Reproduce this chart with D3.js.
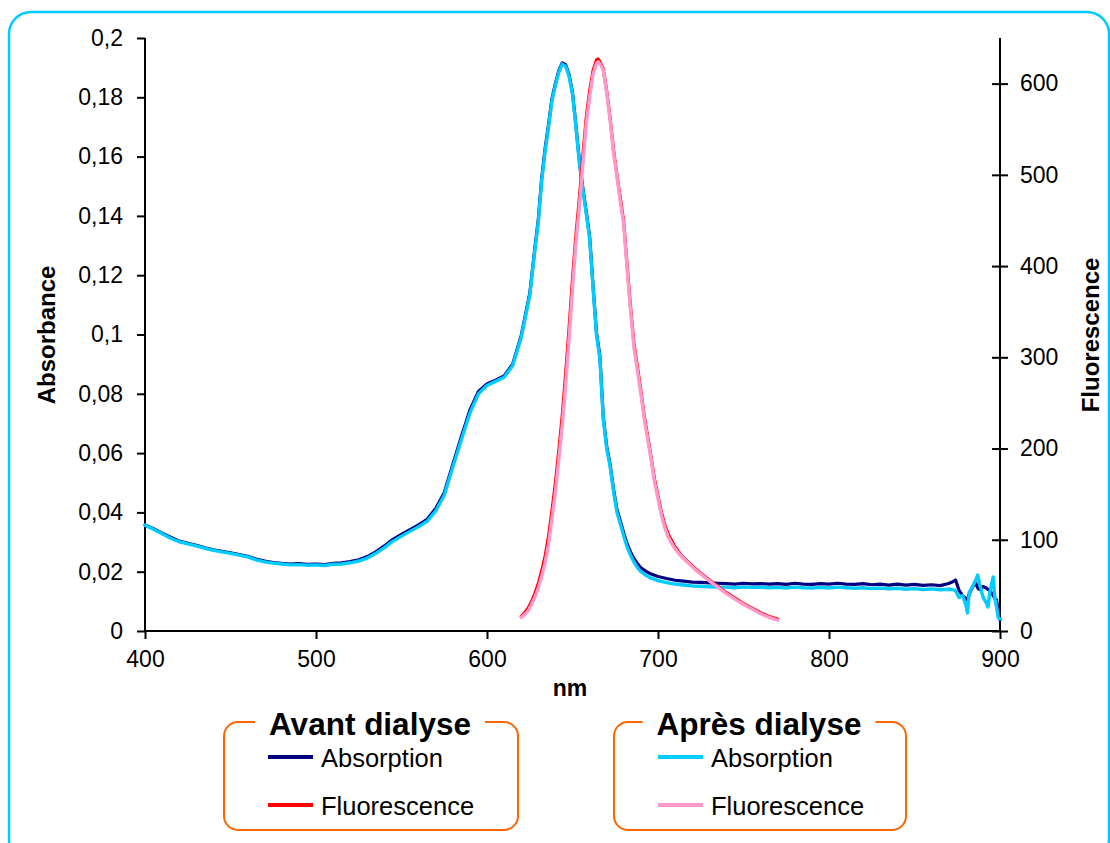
<!DOCTYPE html>
<html>
<head>
<meta charset="utf-8">
<script src="https://cdn.jsdelivr.net/npm/d3@7"></script>
<style>
html,body{margin:0;padding:0;background:#fff;}
svg{display:block;font-family:Arial,"Liberation Sans",sans-serif;}
</style>
</head>
<body>
<svg id="chart" width="1110" height="843"></svg>
<script>
// ---------- DATA ----------
const absWl = [400,405,410,415,420,425,430,435,440,445,450,455,460,465,470,475,480,485,490,495,500,505,510,515,520,525,530,535,540,545,550,555,560,565,570,575,580,585,590,595,600,605,610,615,620,625,628,630,632,634,636,638,640,642,644,646,648,650,652,654,656,658,660,662,664,666,668,670,672,674,676,678,680,682,684,686,688,690,693,696,700,705,710,715,720,725,730,735,740,745,750,755,760,765,770,775,780,785,790,795,800,805,810,815,820,825,830,835,840,845,850,855,860,865,870,872,874,876,878,880,881,882,884,886,887,888,890,892,893,894,896,897,898,899,900];

const absAvant = [0.0358,0.0345,0.0330,0.0316,0.0303,0.0296,0.0289,0.0281,0.0274,0.0269,0.0264,0.0258,0.0252,0.0243,0.0236,0.0231,0.0228,0.0226,0.0227,0.0225,0.0226,0.0224,0.0228,0.0230,0.0234,0.0240,0.0251,0.0267,0.0287,0.0309,0.0326,0.0342,0.0358,0.0377,0.0413,0.0466,0.0562,0.0655,0.0745,0.0808,0.0833,0.0846,0.0860,0.0900,0.0996,0.1138,0.1292,0.1388,0.1528,0.1628,0.1708,0.1796,0.1846,0.1890,0.1916,0.1910,0.1876,0.1816,0.1706,0.1586,0.1496,0.1416,0.1331,0.1166,0.1008,0.0928,0.0722,0.0622,0.0562,0.0478,0.0410,0.0370,0.0330,0.0293,0.0266,0.0244,0.0227,0.0213,0.0201,0.0192,0.0184,0.0177,0.0171,0.0168,0.0165,0.0164,0.0162,0.0161,0.0160,0.0158,0.0161,0.0159,0.0160,0.0158,0.0160,0.0157,0.0161,0.0158,0.0157,0.0160,0.0158,0.0161,0.0158,0.0157,0.0160,0.0156,0.0158,0.0155,0.0158,0.0155,0.0157,0.0154,0.0156,0.0153,0.0160,0.0165,0.0172,0.0138,0.0120,0.0110,0.0105,0.0125,0.0150,0.0160,0.0145,0.0140,0.0150,0.0145,0.0140,0.0138,0.0120,0.0110,0.0105,0.0060,0.0037];

const absApres = [0.0357,0.0343,0.0328,0.0313,0.0301,0.0294,0.0287,0.0279,0.0272,0.0267,0.0262,0.0256,0.0250,0.0240,0.0233,0.0229,0.0226,0.0223,0.0224,0.0222,0.0223,0.0221,0.0225,0.0226,0.0230,0.0236,0.0246,0.0262,0.0281,0.0303,0.0320,0.0336,0.0352,0.0370,0.0405,0.0458,0.0553,0.0645,0.0735,0.0800,0.0828,0.0842,0.0856,0.0895,0.0990,0.1130,0.1285,0.1380,0.1520,0.1620,0.1700,0.1790,0.1840,0.1885,0.1912,0.1905,0.1870,0.1810,0.1700,0.1580,0.1490,0.1410,0.1325,0.1160,0.1000,0.0920,0.0715,0.0615,0.0555,0.0470,0.0400,0.0360,0.0320,0.0282,0.0255,0.0232,0.0214,0.0200,0.0188,0.0178,0.0170,0.0163,0.0158,0.0155,0.0152,0.0151,0.0149,0.0148,0.0148,0.0146,0.0149,0.0147,0.0148,0.0146,0.0147,0.0145,0.0148,0.0146,0.0145,0.0147,0.0145,0.0148,0.0146,0.0144,0.0146,0.0143,0.0145,0.0142,0.0144,0.0141,0.0143,0.0140,0.0142,0.0139,0.0141,0.0140,0.0136,0.0113,0.0120,0.0090,0.0061,0.0130,0.0150,0.0175,0.0189,0.0160,0.0115,0.0095,0.0081,0.0130,0.0182,0.0110,0.0080,0.0044,0.0040];

const fluoWl = [620,622,624,626,628,630,632,634,636,638,640,642,644,646,648,650,652,654,656,658,660,662,664,665,666,668,670,672,674,676,678,680,682,684,686,688,690,692,694,696,698,700,702,704,706,708,710,714,718,722,726,730,735,740,745,750,755,760,765,770];

const fluoAvant = [16,20,25,32,41,52,66,82,104,132,162,198,236,282,332,386,434,474,520,562,592,614,626,627,624,616,592,562,527,500,474,448,399,354,314,289,263,235,213,190,166,148,130,116,106,99,92,82,75,68,62,56,49,42,36,30,25,20,16,13];

const fluoApres = [15,18,22,29,37,47,60,75,95,123,152,188,225,270,320,375,425,465,510,555,585,610,622,624,622,615,590,560,524,498,470,445,395,350,310,285,260,232,210,188,163,145,127,113,103,96,90,81,74,67,61,55,48,41,35,29,24,19,15,12];

const absTicks = [0,0.02,0.04,0.06,0.08,0.1,0.12,0.14,0.16,0.18,0.2];
const fluoTicks = [0,100,200,300,400,500,600];
const nmTicks = [400,500,600,700,800,900];

const legendGroups = [
  {title:"Avant dialyse", items:[{label:"Absorption",color:"#000080"},{label:"Fluorescence",color:"#FF0000"}]},
  {title:"Après dialyse", items:[{label:"Absorption",color:"#00CCFF"},{label:"Fluorescence",color:"#FF99CC"}]}
];

// ---------- CHART ----------
(function(){
const svg = d3.select("#chart");
const pLeft = 145, pRight = 1000, pTop = 38, pBottom = 631;

svg.append("rect").attr("x",9).attr("y",12).attr("width",1100).attr("height",850)
  .attr("rx",22).attr("fill","none").attr("stroke","#00CCFF").attr("stroke-width",2.5);

const x = d3.scaleLinear().domain([400,900]).range([pLeft,pRight]);
const yA = d3.scaleLinear().domain([0,0.2]).range([pBottom,pTop]);
const yF = d3.scaleLinear().domain([0,650]).range([pBottom,pTop]);

const fmt = d => String(d).replace(".",",");

const gL = svg.append("g").attr("transform",`translate(${pLeft},0)`)
  .call(d3.axisLeft(yA).tickValues(absTicks).tickFormat(fmt).tickSize(8).tickPadding(14).tickSizeOuter(0));
const gR = svg.append("g").attr("transform",`translate(${pRight},0)`)
  .call(d3.axisRight(yF).tickValues(fluoTicks).tickSize(8).tickPadding(12).tickSizeOuter(0));
gR.selectAll(".tick line").attr("x1",-8).attr("x2",8);
const gB = svg.append("g").attr("transform",`translate(0,${pBottom})`)
  .call(d3.axisBottom(x).tickValues(nmTicks).tickSize(8).tickPadding(12).tickSizeOuter(0));

[gL,gR,gB].forEach(g=>{
  g.select(".domain").attr("stroke","#000").attr("stroke-width",2);
  g.selectAll(".tick line").attr("stroke","#000").attr("stroke-width",2);
  g.selectAll(".tick text").attr("font-size",23).attr("fill","#000").attr("font-family","Arial, 'Liberation Sans', sans-serif");
});
gL.select(".domain").attr("d",`M0,${pBottom}V${pTop}`);
gR.select(".domain").attr("d",`M0,${pBottom}V${pTop}`);
gB.select(".domain").attr("d",`M${pLeft},0H${pRight}`);

svg.append("text").attr("transform","translate(46,335) rotate(-90)").attr("text-anchor","middle")
  .attr("dominant-baseline","central").attr("font-size",24).attr("font-weight","bold").text("Absorbance");
svg.append("text").attr("transform","translate(1090,335) rotate(-90)").attr("text-anchor","middle")
  .attr("dominant-baseline","central").attr("font-size",24).attr("font-weight","bold").text("Fluorescence");
svg.append("text").attr("x",570).attr("y",688).attr("text-anchor","middle")
  .attr("dominant-baseline","central").attr("font-size",23).attr("font-weight","bold").text("nm");

const lineA = d3.line().x(d=>x(d[0])).y(d=>yA(d[1]));
const lineF = d3.line().x(d=>x(d[0])).y(d=>yF(d[1]));
const zip = (a,b)=>a.map((v,i)=>[v,b[i]]);

const plot = svg.append("g").attr("fill","none").attr("stroke-linejoin","round").attr("stroke-linecap","round");
plot.append("path").attr("d",lineA(zip(absWl,absAvant))).attr("stroke","#000080").attr("stroke-width",3.2);
plot.append("path").attr("d",lineA(zip(absWl,absApres))).attr("stroke","#00CCFF").attr("stroke-width",3.4);
plot.append("path").attr("d",lineF(zip(fluoWl,fluoAvant))).attr("stroke","#FF0000").attr("stroke-width",3.2);
plot.append("path").attr("d",lineF(zip(fluoWl,fluoApres))).attr("stroke","#FF99CC").attr("stroke-width",3.4);

const boxes = [{x:224,w:294},{x:614,w:292}];
legendGroups.forEach((grp,gi)=>{
  const b = boxes[gi];
  const g = svg.append("g");
  g.append("rect").attr("x",b.x).attr("y",722).attr("width",b.w).attr("height",108).attr("rx",14)
    .attr("fill","none").attr("stroke","#FF6600").attr("stroke-width",2);
  const cx = b.x + b.w/2;
  const t = g.append("text").attr("x",cx-1).attr("y",724).attr("text-anchor","middle")
    .attr("dominant-baseline","central").attr("font-size",31.5).attr("font-weight","bold").text(grp.title);
  const bb = t.node().getBBox();
  g.insert("rect","text").attr("x",bb.x-14).attr("y",715).attr("width",bb.width+28).attr("height",14).attr("fill","#fff");
  grp.items.forEach((it,ii)=>{
    const yy = 757 + ii*48;
    g.append("line").attr("x1",b.x+44).attr("x2",b.x+89).attr("y1",yy).attr("y2",yy)
      .attr("stroke",it.color).attr("stroke-width",4);
    g.append("text").attr("x",b.x+97).attr("y",yy+1).attr("dominant-baseline","central")
      .attr("font-size",25.5).text(it.label);
  });
});
})();
</script>
</body>
</html>
